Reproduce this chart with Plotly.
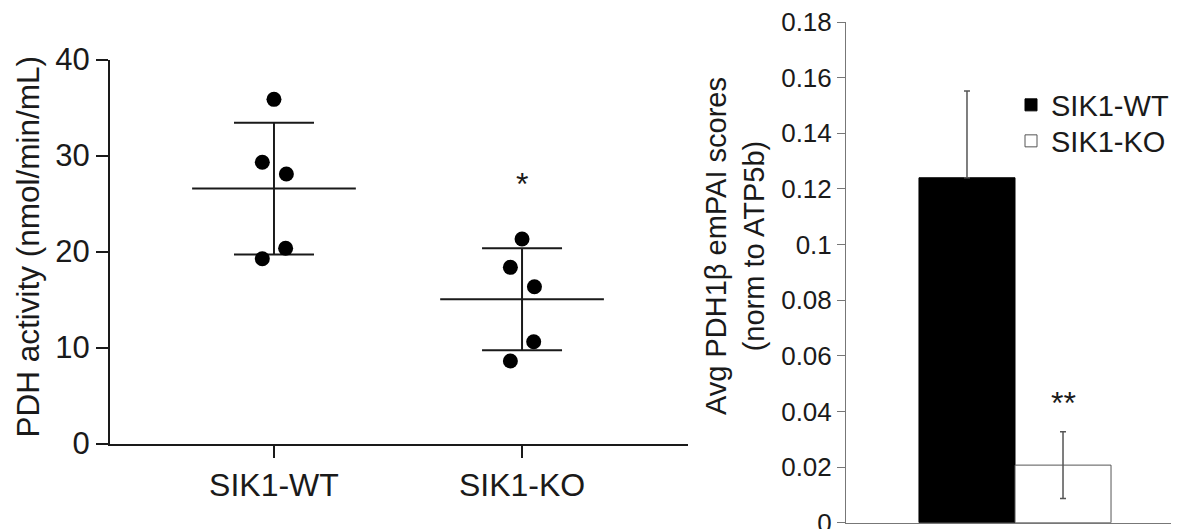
import numpy as np
import plotly.graph_objects as go

# ---------------- data ----------------
groups = ["SIK1-WT", "SIK1-KO"]
pdh_wt = [35.85, 29.3, 28.07, 20.33, 19.25]
pdh_ko = [21.3, 18.35, 16.33, 10.6, 8.6]
jitter = [0.0, -0.047, 0.05, 0.047, -0.047]

bar_series = ["SIK1-WT", "SIK1-KO"]
bar_values = [0.124, 0.0207]
bar_err_plus = [0.0312, 0.012]
bar_err_minus = [0.0, 0.012]
bar_category = ["PDH1β"]

left_yticks = [0, 10, 20, 30, 40]
right_yticks = [0, 0.02, 0.04, 0.06, 0.08, 0.1, 0.12, 0.14, 0.16, 0.18]

FONT = "Arial, Liberation Sans, sans-serif"
TXT = "#1a1a1a"

fig = go.Figure()

# ---------------- left panel: scatter with mean ± SD ----------------
for gi, vals in enumerate([pdh_wt, pdh_ko]):
    v = np.array(vals)
    mean = v.mean()
    sd = v.std(ddof=1)
    fig.add_trace(go.Scatter(
        x=[gi], y=[mean], mode="markers",
        marker=dict(size=2, color=TXT),
        error_x=dict(type="data", array=[0.33], width=0, thickness=2, color=TXT),
        error_y=dict(type="data", array=[sd], width=40, thickness=2, color=TXT),
        showlegend=False, xaxis="x", yaxis="y", hoverinfo="skip"))
    fig.add_trace(go.Scatter(
        x=[gi + j for j in jitter], y=vals, mode="markers",
        marker=dict(size=15, color="black"),
        showlegend=False, xaxis="x", yaxis="y"))

# ---------------- right panel: bars ----------------
bar_fill = ["black", "white"]
bar_line = ["black", "#555555"]
legend_ids = ["legend", "legend2"]
for name, val, ep, em, fc, lc, lg in zip(bar_series, bar_values, bar_err_plus,
                                         bar_err_minus, bar_fill, bar_line, legend_ids):
    fig.add_trace(go.Bar(
        x=bar_category, y=[val], name=name, legend=lg,
        marker=dict(color=fc, line=dict(color=lc, width=1)),
        error_y=dict(type="data", symmetric=False, array=[ep], arrayminus=[em],
                     color="#555555", thickness=1.5, width=3),
        xaxis="x2", yaxis="y2"))

# page body has an 8px margin: figure origin sits at (8, 8) of the window
OFF = 8
W, H = 1179 - OFF, 529 - OFF
def px_x(p):
    return (p - OFF) / W
def px_y(p):
    return (H - (p - OFF)) / H

leg_common = dict(xanchor="left", yanchor="middle",
                  font=dict(size=29, color=TXT), bgcolor="rgba(0,0,0,0)")

fig.update_layout(
    template="none",
    width=W, height=H,
    margin=dict(l=0, r=0, t=0, b=0, pad=0),
    paper_bgcolor="white", plot_bgcolor="white",
    font=dict(family=FONT, color=TXT),
    barmode="group", bargap=0.5, bargroupgap=0,
    xaxis=dict(
        domain=[px_x(110), px_x(688)], range=[-0.661, 1.669],
        tickvals=[0, 1], ticktext=groups, automargin=False,
        showline=True, linecolor=TXT, linewidth=2,
        ticks="outside", ticklen=12, tickwidth=2, tickcolor=TXT,
        tickfont=dict(size=32, color=TXT), showgrid=False, zeroline=False,
        anchor="y"),
    yaxis=dict(
        domain=[px_y(443.5), px_y(59.5)], range=[0, 40],
        tickvals=left_yticks, automargin=False,
        showline=True, linecolor=TXT, linewidth=2,
        ticks="outside", ticklen=12, tickwidth=2, tickcolor=TXT,
        tickfont=dict(size=31, color=TXT), showgrid=False, zeroline=False,
        anchor="x"),
    xaxis2=dict(
        domain=[px_x(846), 1.0], range=[-0.440, 0.427], automargin=False,
        showline=True, linecolor="#777777", linewidth=1,
        ticks="", showticklabels=False, showgrid=False, zeroline=False,
        anchor="y2"),
    yaxis2=dict(
        domain=[px_y(522.7), px_y(22)], range=[0, 0.18],
        tickvals=right_yticks, automargin=False, ticklabeloverflow="allow",
        showline=True, linecolor="#777777", linewidth=1,
        ticks="outside", ticklen=8, tickwidth=1, tickcolor="#777777",
        tickfont=dict(size=26, color=TXT), showgrid=False, zeroline=False,
        anchor="x2"),
    legend=dict(x=px_x(1011), y=px_y(105), **leg_common),
    legend2=dict(x=px_x(1011), y=px_y(141), **leg_common),
    annotations=[
        dict(text="PDH activity (nmol/min/mL)", textangle=-90,
             xref="paper", yref="paper", x=px_x(27), y=px_y(246.5),
             xanchor="center", yanchor="middle", showarrow=False,
             font=dict(size=31.5, color=TXT)),
        dict(text="Avg PDH1β emPAI scores<br>(norm to ATP5b)", textangle=-90,
             xref="paper", yref="paper", x=px_x(735), y=px_y(246),
             xanchor="center", yanchor="middle", showarrow=False,
             font=dict(size=29, color=TXT)),
        dict(text="*", xref="x", yref="y", x=1, y=27.0,
             xanchor="center", yanchor="middle", showarrow=False,
             font=dict(size=32, color=TXT)),
        dict(text="**", xref="x2", yref="y2", x=0.125, y=0.043,
             xanchor="center", yanchor="middle", showarrow=False,
             font=dict(size=32, color=TXT)),
    ],
)

fig.write_html("out.html")
